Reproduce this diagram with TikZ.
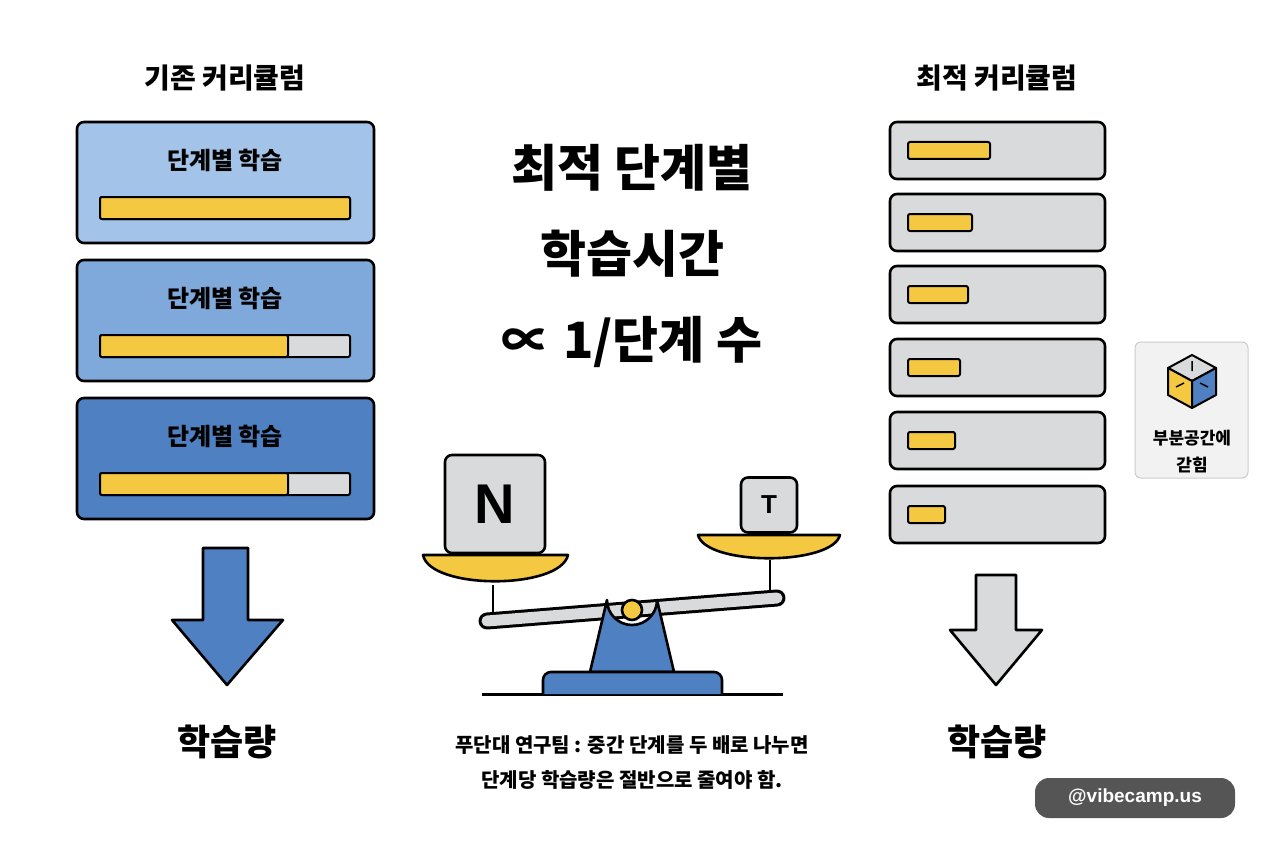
\documentclass[tikz,border=0pt]{standalone}
\usepackage{fontspec}
\setmainfont{Noto Sans CJK KR}
\newfontfamily\latinfont{Liberation Sans}
\usetikzlibrary{positioning}
\definecolor{blueA}{HTML}{A3C4E8}
\definecolor{blueB}{HTML}{7FA9DB}
\definecolor{blueC}{HTML}{4F80C2}
\definecolor{barY}{HTML}{F5C842}
\definecolor{boxG}{HTML}{D9DADB}
\definecolor{pill}{HTML}{555555}
\begin{document}
\begin{tikzpicture}[x = 1pt, y = -1pt, line width = 2.6pt, line join = round,
	stage/.style = {draw, rounded corners = 7pt},
	bar/.style = {draw, line width = 2pt, rounded corners = 2pt},
	label/.style = {font = \bfseries\fontsize{#1}{#1}\selectfont, align = center, inner sep = 0pt},
	label/.default = 24]

	% Canvas

	\useasboundingbox [fill = white] (0, 0) rectangle (1264, 848);

	% Existing curriculum

	\node [label = 28] (leftHead) at (225, 78) {기존 커리큘럼};
	\foreach \Y/\C/\F in {122/blueA/350, 260/blueB/288, 398/blueC/288} {
		\draw [stage, fill = \C] (77, \Y) rectangle (374, \Y + 121);
		\node [label] at (225, \Y + 38) {단계별 학습};
		\draw [bar, fill = boxG] (100, \Y + 75) rectangle (350, \Y + 97);
		\draw [bar, fill = barY] (100, \Y + 75) rectangle (\F, \Y + 97);
	}
	\draw [fill = blueC] (203, 548) -- (248, 548) -- (248, 620) -- (283, 620) -- (227, 685)
		-- (172, 620) -- (203, 620) -- cycle;
	\node [label = 36] (leftGain) at (227, 742) {학습량};

	% Title

	\node [label = 50] (title) at (632, 168) {최적 단계별};
	\node [label = 50, below = 36pt of title] (titleB) {학습시간};
	\node [label = 50, below = 36pt of titleB] (titleC) {∝ 1/단계 수};

	% Balance

	\draw [line width = 3pt] (482, 694) -- (783, 694);
	\draw (493, 585) -- (493, 612);
	\draw (770, 560) -- (770, 592);
	\draw [line width = 17pt, line cap = round] (487, 621) -- (777, 598);
	\draw [line width = 11pt, line cap = round, boxG] (487, 621) -- (777, 598);
	\draw [fill = blueC] (590, 672) -- (607, 600) arc (180 : 0 : 25) -- (674, 672) -- cycle;
	\draw [fill = blueC, rounded corners = 8pt] (543, 694) -- (543, 672) -- (722, 672) -- (722, 694);
	\draw [fill = barY] (632, 610) circle (10);
	\draw [fill = barY] (423, 555) -- (568, 555) .. controls (560, 590) and (430, 590) .. cycle;
	\draw [fill = barY] (698, 535) -- (840, 535) .. controls (832, 566) and (706, 566) .. cycle;
	\node [stage, fill = boxG, minimum width = 100pt, minimum height = 98pt,
		font = \latinfont\bfseries\fontsize{56}{56}\selectfont] (weightN) at (495, 504) {N};
	\node [stage, fill = boxG, minimum width = 56pt, minimum height = 55pt,
		font = \latinfont\bfseries\fontsize{26}{26}\selectfont] (weightT) at (769, 505) {T};

	\node [label = 20] (note) at (632, 745) {푸단대 연구팀 : 중간 단계를 두 배로 나누면};
	\node [label = 20, below = 14pt of note] (noteB) {단계당 학습량은 절반으로 줄여야 함.};

	% Optimal curriculum

	\node [label = 28] (rightHead) at (997, 78) {최적 커리큘럼};
	\foreach \Y/\F in {122/990, 194/972, 266/968, 339/960, 412/955, 486/945} {
		\draw [stage, fill = boxG] (890, \Y) rectangle (1105, \Y + 57);
		\draw [bar, fill = barY] (908, \Y + 20) rectangle (\F, \Y + 37);
	}
	\draw [fill = boxG] (976, 575) -- (1016, 575) -- (1016, 630) -- (1042, 630) -- (996, 685)
		-- (950, 630) -- (976, 630) -- cycle;
	\node [label = 36] (rightGain) at (997, 742) {학습량};

	% Subspace badge

	\draw [line width = 1pt, draw = black!20, fill = black!5, rounded corners = 6pt]
		(1135, 342) rectangle (1248, 478);
	\begin{scope}[shift = {(1192, 381)}, line width = 2pt]
		\draw [fill = boxG] (0, 0) -- (-24, -13) -- (0, -26) -- (24, -13) -- cycle;
		\draw [fill = barY] (0, 0) -- (-24, -13) -- (-24, 14) -- (0, 27) -- cycle;
		\draw [fill = blueC] (0, 0) -- (24, -13) -- (24, 14) -- (0, 27) -- cycle;
		\draw [line width = 1.5pt] (0, -20) -- (0, -10) (-16, 6) -- (-8, 2) (8, 2) -- (16, 6);
	\end{scope}
	\node [label = 17] (badge) at (1192, 438) {부분공간에};
	\node [label = 17, below = 8pt of badge] (badgeB) {갇힘};

	% Watermark

	\node [fill = pill, text = white, rounded corners = 14pt, minimum width = 200pt,
		minimum height = 40pt, font = \latinfont\bfseries\fontsize{19}{19}\selectfont] (mark)
		at (1135, 798) {@vibecamp.us};

\end{tikzpicture}
\end{document}
